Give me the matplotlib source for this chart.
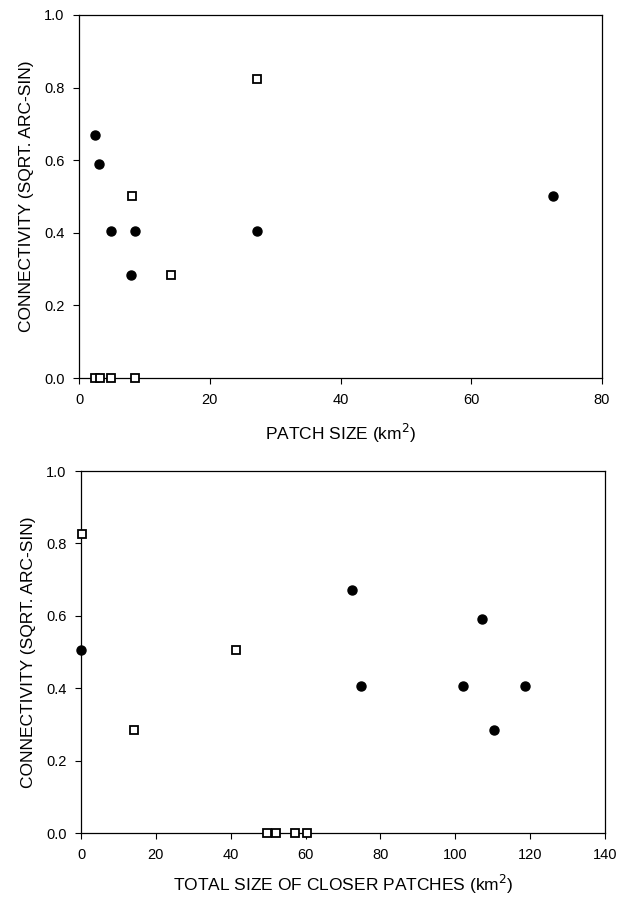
import matplotlib
matplotlib.use('Agg')
from matplotlib import pyplot as plt

plt.rcParams['font.family'] = ['Liberation Sans', 'DejaVu Sans']

# top panel: connectivity vs patch size
patch_circ_x = [2.4, 3.1, 4.9, 8.6, 27.2, 8.0, 72.5]
patch_circ_y = [0.67, 0.59, 0.405, 0.405, 0.405, 0.283, 0.50]
patch_sq_x = [27.3, 8.1, 14.0, 2.4, 3.2, 4.9, 8.6]
patch_sq_y = [0.825, 0.50, 0.283, 0.0, 0.0, 0.0, 0.0]

# bottom panel: connectivity vs total size of closer patches
total_circ_x = [0.0, 72.4, 107.1, 74.8, 102.1, 118.6, 110.3]
total_circ_y = [0.505, 0.671, 0.591, 0.406, 0.406, 0.406, 0.284]
total_sq_x = [0.3, 14.2, 41.4, 49.6, 52.1, 57.1, 60.3]
total_sq_y = [0.825, 0.285, 0.505, 0.0, 0.0, 0.0, 0.0]

y_ticks = [0.0, 0.2, 0.4, 0.6, 0.8, 1.0]
ylabel = 'CONNECTIVITY (SQRT. ARC-SIN)'

fig = plt.figure(figsize=(6.23, 8.97), dpi=100)
W, H = 623, 897
ax1 = fig.add_axes([79 / W, 1 - 378 / H, 523 / W, 363 / H])
ax2 = fig.add_axes([81 / W, 1 - 833 / H, 524 / W, 362 / H])


def style(ax, xmax, xstep, xlabel, lpad):
    ax.set_xlim(0, xmax)
    ax.set_ylim(0, 1.0)
    ax.set_xticks(range(0, xmax + 1, xstep))
    ax.set_yticks(y_ticks)
    ax.set_yticklabels(['%.1f' % t for t in y_ticks])
    ax.tick_params(direction='out', length=4.5, width=0.8, labelsize=10.5, pad=6)
    for s in ax.spines.values():
        s.set_linewidth(0.9)
    ax.set_xlabel(xlabel, fontsize=12.5, labelpad=lpad)
    ax.set_ylabel(ylabel, fontsize=12.5, labelpad=7)


ax1.plot(patch_circ_x, patch_circ_y, 'o', color='black', markersize=6.5, clip_on=False, zorder=3)
ax1.plot(patch_sq_x, patch_sq_y, 's', mfc='white', mec='black', mew=1.3, markersize=5.5, clip_on=False, zorder=3)
style(ax1, 80, 20, 'PATCH SIZE (km$^2$)', 11)

ax2.plot(total_circ_x, total_circ_y, 'o', color='black', markersize=6.5, clip_on=False, zorder=3)
ax2.plot(total_sq_x, total_sq_y, 's', mfc='white', mec='black', mew=1.3, markersize=5.5, clip_on=False, zorder=3)
style(ax2, 140, 20, 'TOTAL SIZE OF CLOSER PATCHES (km$^2$)', 8)

fig.savefig('out.png', dpi=100)
